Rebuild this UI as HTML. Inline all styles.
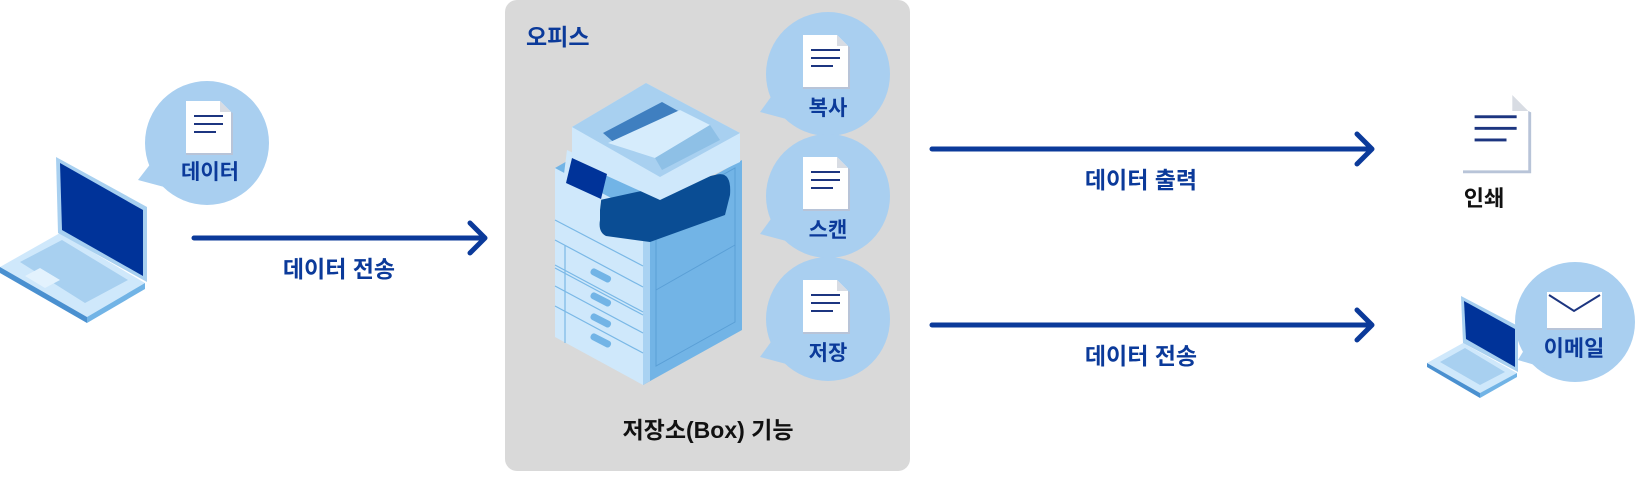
<!DOCTYPE html>
<html><head><meta charset="utf-8"><style>
html,body{margin:0;padding:0;background:#fff;}
svg text{font-family:"Liberation Sans","Noto Sans CJK KR",sans-serif;font-weight:bold;}
</style></head><body>
<svg width="1636" height="472" viewBox="0 0 1636 472" xmlns="http://www.w3.org/2000/svg">
<defs>
<g id="doc">
<path d="M0 0 H34 L45 11 V52 H0 Z" fill="#fff"/>
<path d="M34 0 V11 H45 Z" fill="#d8dce3"/>
<path d="M45 11 V52 H0 V54 H47 V12 Z" fill="#b8c4d8"/>
<rect x="8" y="14" width="29" height="2" fill="#1c3580"/>
<rect x="8" y="22" width="29" height="2" fill="#1c3580"/>
<rect x="8" y="30" width="22" height="2" fill="#1c3580"/>
</g>
</defs>
<rect x="505" y="0" width="405" height="471" rx="12" fill="#d9d9d9"/>
<text x="526" y="45" font-size="23" fill="#0b3a9a">오피스</text>

<g fill="#a9cff0">
<circle cx="828" cy="74" r="62"/><path d="M760 112 L776 90 L790 120 Z"/>
<circle cx="828" cy="196" r="62"/><path d="M760 234 L776 212 L790 242 Z"/>
<circle cx="828" cy="319" r="62"/><path d="M760 357 L776 335 L790 365 Z"/>
</g>
<use href="#doc" x="803" y="35"/>
<text x="828" y="115" font-size="21" fill="#0b3a9a" text-anchor="middle">복사</text>
<use href="#doc" x="803" y="157"/>
<text x="828" y="237" font-size="21" fill="#0b3a9a" text-anchor="middle">스캔</text>
<use href="#doc" x="803" y="280"/>
<text x="828" y="360" font-size="21" fill="#0b3a9a" text-anchor="middle">저장</text>

<!-- printer -->
<polygon points="555,168 643,215 643,385 555,337" fill="#cfe8fb"/>
<polygon points="643,215 742,160 742,330 643,385" fill="#72b4e6"/>
<polygon points="643,215 650,211 650,381 643,385" fill="#a9d2f2"/>
<polygon points="656,212 735,168 735,322 656,366" fill="none" stroke="#5a9fd6" stroke-width="1"/>
<line x1="656" y1="290" x2="735" y2="245" stroke="#5a9fd6"/>
<polygon points="555,168 576,156 650,195 643,215" fill="#72b4e6"/>
<path d="M600 200 L715 175 Q732 170 730 195 L725 215 L650 242 L606 236 Q598 232 600 220 Z" fill="#0a4d94"/>
<polygon points="572,127 646,83 740,133 740,162 660,200 572,160" fill="#cfe8fb"/>
<polygon points="572,127 646,83 740,133 660,177" fill="#a8d0f0"/>
<polygon points="603,133 662,102 680,112 618,146" fill="#3f7fc0"/>
<polygon points="608,143 680,110 710,125 655,158" fill="#d6ecfc"/>
<polygon points="655,158 710,125 720,140 662,170" fill="#8ec0e6"/>
<polygon points="567,150 605,168 600,210 562,190" fill="#cfe8fb"/>
<polygon points="572,158 607,174 601,199 566,183" fill="#003399"/>
<g stroke="#7ab8e6" stroke-width="1.2" fill="none">
<line x1="555" y1="220" x2="643" y2="266"/>
<line x1="555" y1="240" x2="643" y2="287"/>
<line x1="555" y1="265" x2="643" y2="312"/>
<line x1="555" y1="268" x2="643" y2="315"/>
<line x1="555" y1="286" x2="643" y2="333"/>
<line x1="555" y1="306" x2="643" y2="353"/>
<line x1="565" y1="245" x2="565" y2="343"/>
</g>
<g fill="#72b4e6">
<rect x="590" y="272" width="22" height="7" rx="3" transform="rotate(27 601 275)"/>
<rect x="590" y="296" width="22" height="7" rx="3" transform="rotate(27 601 299)"/>
<rect x="590" y="317" width="22" height="7" rx="3" transform="rotate(27 601 320)"/>
<rect x="590" y="337" width="22" height="7" rx="3" transform="rotate(27 601 340)"/>
</g>
<text x="708" y="438" font-size="23" fill="#111" text-anchor="middle">저장소(Box) 기능</text>

<!-- left laptop -->
<polygon points="0,267 60,233 145,283 87,317" fill="#cfe8fb"/>
<polygon points="0,267 87,317 87,323 0,273" fill="#4a90d0"/>
<polygon points="87,317 145,283 145,289 87,323" fill="#72b4e6"/>
<polygon points="20,262 62,240 128,280 85,303" fill="#a8d0f0"/>
<polygon points="25,276 40,268 60,280 45,288" fill="#e3f2fd"/>
<polygon points="56,157 147,207 147,282 58,233" fill="#a8d0f0"/>
<polygon points="60,163 143,210 143,276 62,230" fill="#003399"/>
<circle cx="207" cy="143" r="62" fill="#a9cff0"/>
<path d="M138 180 L155 158 L168 188 Z" fill="#a9cff0"/>
<use href="#doc" x="186" y="101"/>
<text x="210" y="179" font-size="21" fill="#0b3a9a" text-anchor="middle">데이터</text>

<g stroke="#0b3a9a" stroke-width="5" fill="none" stroke-linecap="round" stroke-linejoin="round">
<line x1="194" y1="238" x2="484" y2="238"/><polyline points="470,223 485,238 470,253"/>
<line x1="932" y1="149" x2="1371" y2="149"/><polyline points="1357,134 1372,149 1357,164"/>
<line x1="932" y1="325" x2="1371" y2="325"/><polyline points="1357,310 1372,325 1357,340"/>
</g>
<text x="339" y="277" font-size="23" fill="#0b3a9a" text-anchor="middle">데이터 전송</text>
<text x="1141" y="188" font-size="23" fill="#0b3a9a" text-anchor="middle">데이터 출력</text>
<text x="1141" y="364" font-size="23" fill="#0b3a9a" text-anchor="middle">데이터 전송</text>

<g transform="translate(1463,95) scale(1.45)"><use href="#doc"/></g>
<text x="1484" y="206" font-size="22" fill="#111" text-anchor="middle">인쇄</text>

<polygon points="1427,363 1463,343 1517,373 1480,393" fill="#cfe8fb"/>
<polygon points="1427,363 1480,393 1480,398 1427,367" fill="#4a90d0"/>
<polygon points="1480,393 1517,373 1517,377 1480,398" fill="#72b4e6"/>
<polygon points="1440,362 1465,348 1505,372 1480,385" fill="#a8d0f0"/>
<polygon points="1461,296 1518,326 1518,372 1463,343" fill="#a8d0f0"/>
<polygon points="1464,301 1515,329 1515,367 1466,339" fill="#003399"/>
<circle cx="1575" cy="322" r="60" fill="#a9cff0"/>
<path d="M1518 360 L1530 340 L1545 368 Z" fill="#a9cff0"/>
<rect x="1547" y="292" width="55" height="36" fill="#fff"/>
<rect x="1547" y="328" width="55" height="2" fill="#b8c4d8"/>
<polyline points="1549,295 1574,311 1600,295" fill="none" stroke="#1c3580" stroke-width="2"/>
<text x="1574" y="356" font-size="22" fill="#0b3a9a" text-anchor="middle">이메일</text>
</svg>
</body></html>
